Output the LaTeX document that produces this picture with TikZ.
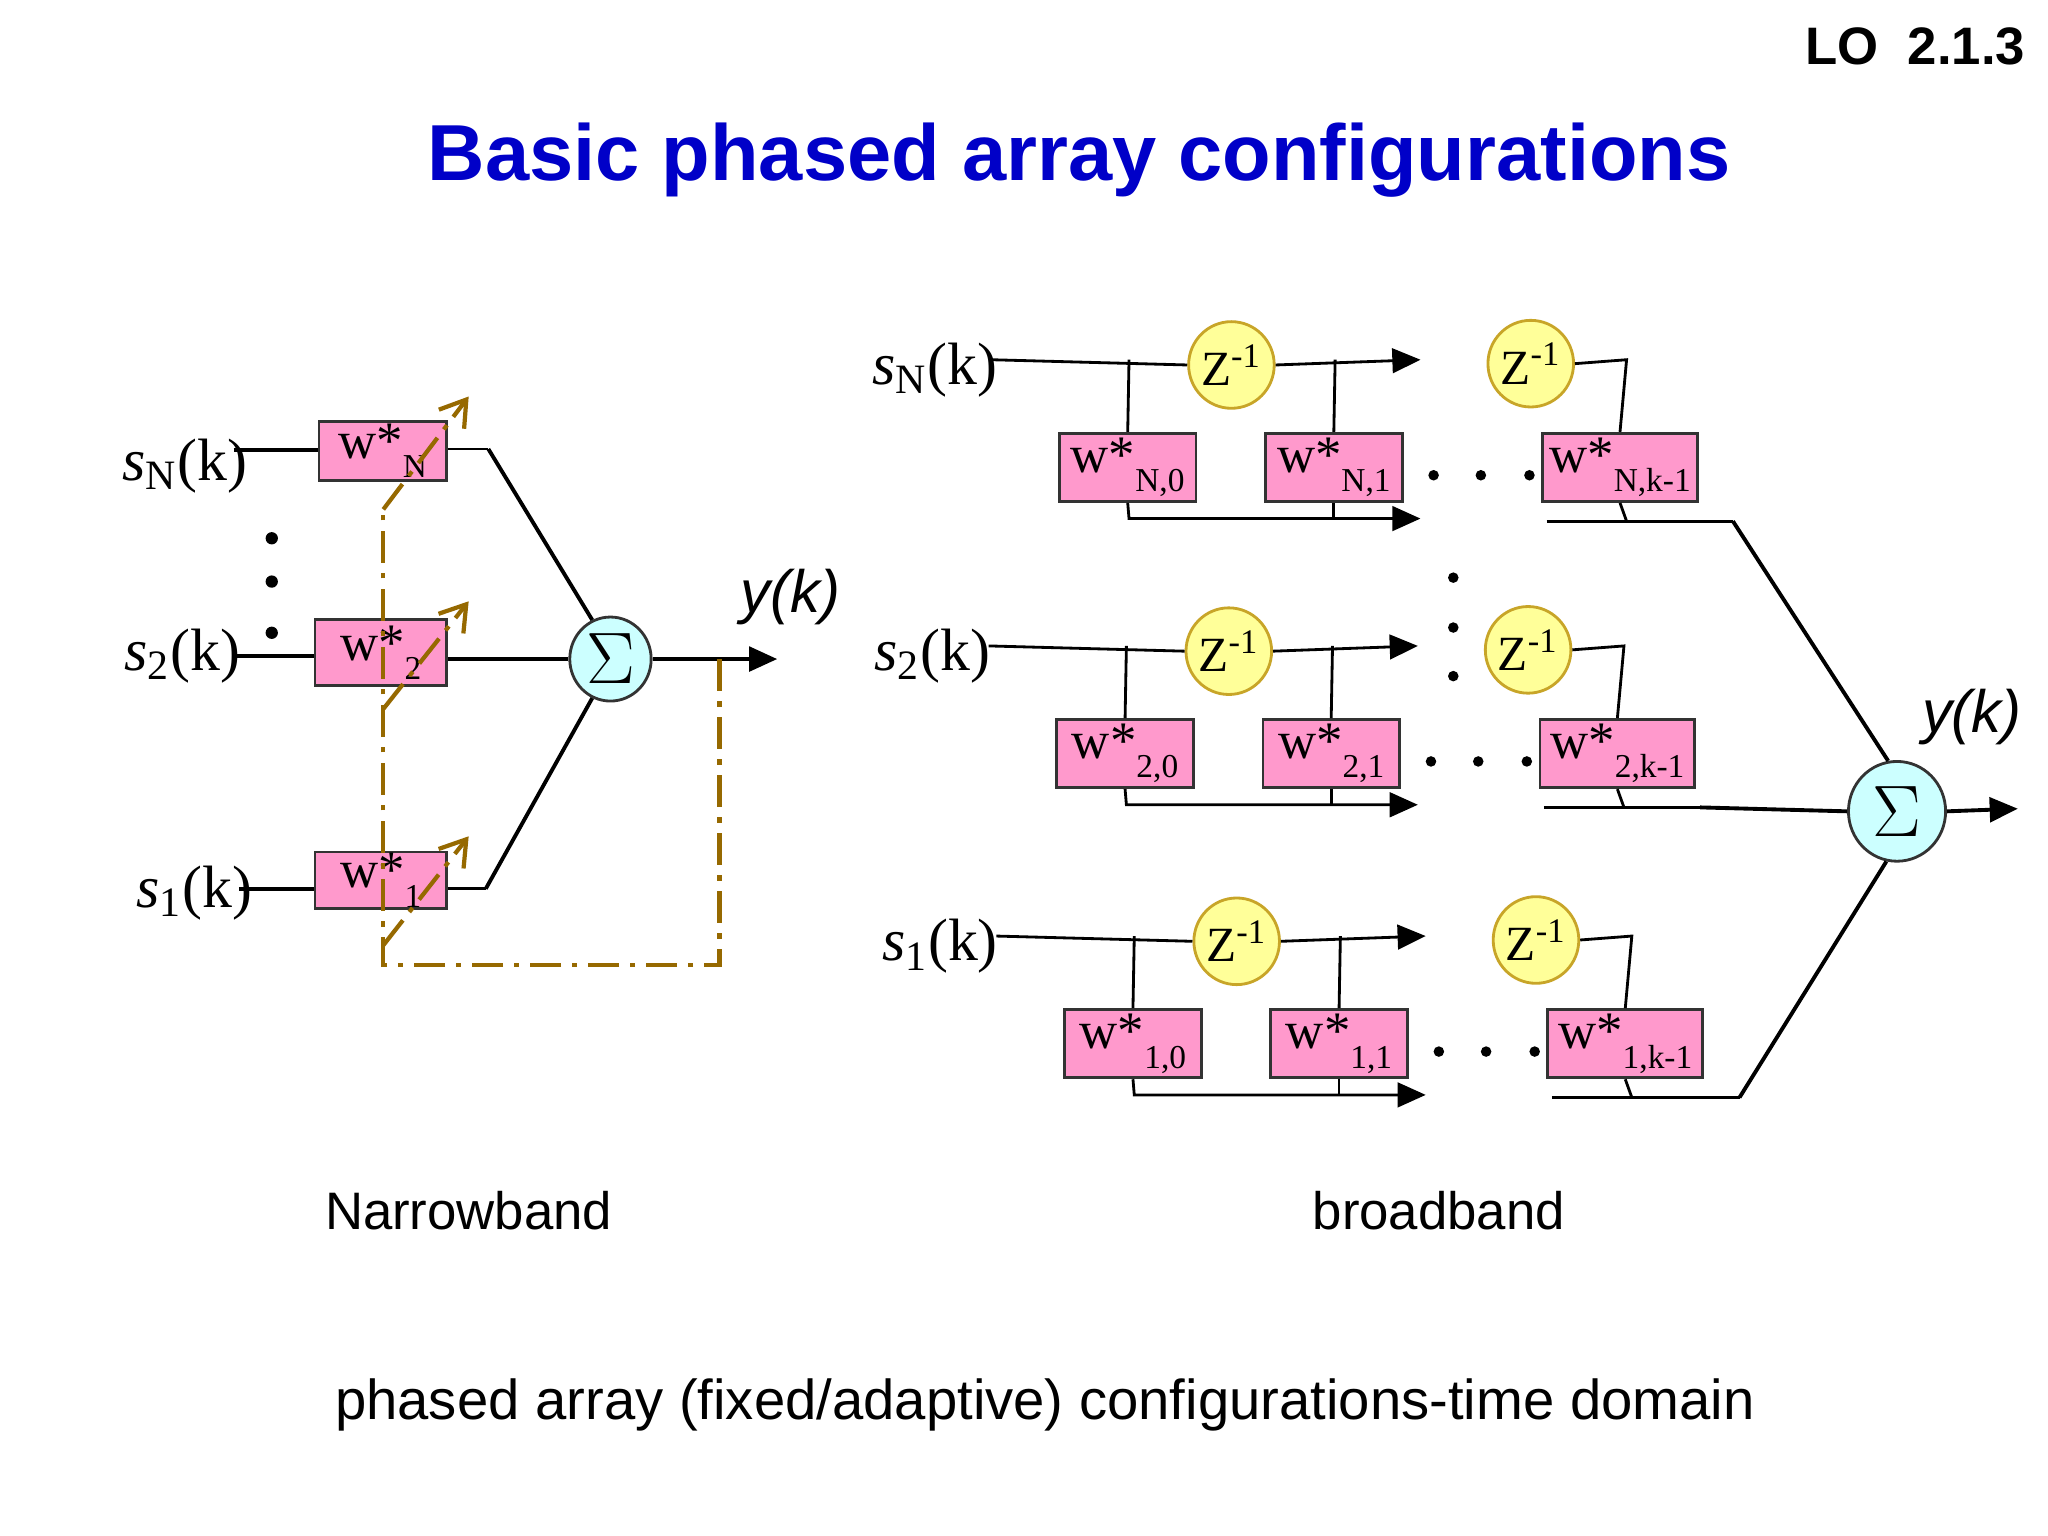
\documentclass[tikz,border=0pt]{standalone}
\usepackage{fontspec}
\setmainfont{Liberation Serif}
\newfontfamily\sans{Liberation Sans}
\usetikzlibrary{arrows.meta,shapes.geometric}
\definecolor{pinkw}{RGB}{255,153,204}
\definecolor{yelz}{RGB}{255,255,153}
\definecolor{yelb}{RGB}{200,165,40}
\definecolor{cyans}{RGB}{204,255,255}
\definecolor{brn}{RGB}{150,105,0}
\definecolor{ttl}{RGB}{0,0,200}
\newcommand{\wlab}[1]{w*\raisebox{-0.8ex}{\fontsize{9.5}{9.5}\selectfont #1}}
\tikzset{
  wbox/.style={draw=black!80,fill=pinkw,line width=0.8pt,minimum width=#1*0.013128cm,inner sep=0pt,font=\fontsize{15}{15}\selectfont},
  wbox/.default=104,
  zel/.style={ellipse,draw=yelb,fill=yelz,line width=0.8pt,minimum width=64*0.013128cm,minimum height=66*0.013128cm,inner sep=0pt,font=\fontsize{14}{14}\selectfont},
  sig/.style={ellipse,draw=black!80,fill=cyans,line width=0.8pt,inner sep=0pt,font=\fontsize{20}{20}\selectfont},
  ln/.style={line width=1.1pt},
  thn/.style={line width=0.8pt},
  arr/.style={-{Triangle[length=8pt,width=7pt]}},
  ctl/.style={brn,line width=1.2pt,dash pattern=on 9pt off 3pt on 1.5pt off 3pt},
  slab/.style={font=\fontsize{17}{17}\selectfont,inner sep=0pt},
  dot/.style={circle,fill=black,inner sep=0pt,minimum size=3.5pt},
}
\begin{document}
\begin{tikzpicture}[x=0.013128cm,y=-0.013128cm]
\useasboundingbox[fill=white] (0,0) rectangle (1560,1170);
% titles
\node[anchor=east,font=\sans\bfseries\fontsize{15}{15}\selectfont] (lo) at (1552,35) {LO\ \ 2.1.3};
\node[font=\sans\bfseries\fontsize{22.6}{22.6}\selectfont,text=ttl] (title) at (822,122) {Basic phased array configurations};
\node[font=\sans\fontsize{15}{15}\selectfont] (nb) at (357,922) {Narrowband};
\node[font=\sans\fontsize{15}{15}\selectfont] (bb) at (1096,922) {broadband};
\node[font=\sans\fontsize{16}{16}\selectfont] (cap) at (796,1070) {phased array (fixed/adaptive) configurations-time domain};

% ---------- Narrowband ----------
\node[wbox=97,minimum height=45*0.013128cm] (wN) at (291.5,343.5) {\wlab{N}};
\node[wbox=100,minimum height=50*0.013128cm] (w2) at (290,497) {\wlab{2}};
\node[wbox=100,minimum height=43*0.013128cm] (w1) at (290,670.5) {\wlab{1}};
\node[slab] (lsN) at (141,355) {\textit{s}\textsubscript{N}(k)};
\node[slab] (ls2) at (139,500) {\textit{s}\textsubscript{2}(k)};
\node[slab] (ls1) at (148,680) {\textit{s}\textsubscript{1}(k)};
\node[sig,minimum width=62*0.013128cm,minimum height=64*0.013128cm] (S1) at (465,502) {$\Sigma$};
\coordinate (iN) at (178,343); \coordinate (i2) at (178,500); \coordinate (i1) at (182,677);
\draw[ln] (iN) -- (wN.west|-iN);
\draw[ln] (i2) -- (w2.west|-i2);
\draw[ln] (i1) -- (w1.west|-i1);
\coordinate (oN) at (372,342); \coordinate (o1) at (370,677);
\draw[thn] (wN.east|-oN) -- (oN);
\draw[ln] (oN) -- (S1.115);
\draw[ln] (w2.east|-S1) -- (S1.west);
\draw[thn] (w1.east|-o1) -- (o1);
\draw[ln] (o1) -- (S1.245);
\coordinate (y1) at (592,502);
\draw[ln,arr] (S1.east) -- (y1);
\node[font=\sans\itshape\fontsize{17}{17}\selectfont] (yk1) at (602,455) {y(k)};
\foreach \yy/\n in {410/a,443/b,482/c} \node[dot] (nd\n) at (207,\yy) {};
% control loop
\coordinate (cA) at (548,502); \coordinate (cB) at (548,735); \coordinate (cC) at (292,735);
\coordinate (cD) at (292,388);
\draw[ctl] (cA) -- (cB) -- (cC) -- (cD);
\coordinate (dN) at (357,302); \coordinate (d2s) at (292,540); \coordinate (d2) at (357,458);
\coordinate (d1s) at (292,720); \coordinate (d1) at (357,637);
\draw[ctl,-{Straight Barb[length=7pt,width=9pt]}] (cD) -- (dN);
\draw[ctl,-{Straight Barb[length=7pt,width=9pt]}] (d2s) -- (d2);
\draw[ctl,-{Straight Barb[length=7pt,width=9pt]}] (d1s) -- (d1);

% ---------- Broadband ----------
\node[sig,minimum width=74*0.013128cm,minimum height=76*0.013128cm] (S2) at (1445,618) {$\Sigma$};
\draw[ln,arr] (S2.east) -- (1537,616) coordinate (y2);
\node[font=\sans\itshape\fontsize{17}{17}\selectfont] (yk2) at (1502,546) {y(k)};
\foreach \r/\s/\yy/\dx/\sub in {N/N/274/0/N, B/2/492/-2/2, A/1/713/4/1}{
  \begin{scope}[xshift={(755+\dx)*0.013128cm},yshift={-\yy*0.013128cm}]
    \node[slab] (in\r) at (-43,8) {\textit{s}\textsubscript{\s}(k)};
    \coordinate (st\r) at (0,0);
    \node[zel] (za\r) at (183,4) {Z\textsuperscript{-1}};
    \node[zel] (zb\r) at (411,3) {Z\textsuperscript{-1}};
    \node[wbox,minimum height=52*0.013128cm] (wa\r) at (104,82) {\wlab{\sub,0}};
    \node[wbox,minimum height=52*0.013128cm] (wb\r) at (261,82) {\wlab{\sub,1}};
    \node[wbox=118,minimum height=52*0.013128cm] (wc\r) at (479,82) {\wlab{\sub,k-1}};
    \coordinate (ta\r) at (105,0); \coordinate (tb\r) at (262,0);
    \coordinate (e\r) at (327,0); \coordinate (f\r) at (484,0);
    \coordinate (ba\r) at (105,121); \coordinate (be\r) at (327,121);
    \coordinate (bc\r) at (423,123); \coordinate (bk\r) at (484,123);
    \node[dot,minimum size=3pt] (pa\r) at (337,88) {};
    \node[dot,minimum size=3pt] (pb\r) at (373,88) {};
    \node[dot,minimum size=3pt] (pc\r) at (410,88) {};
  \end{scope}
  \draw[thn] (st\r) -- (za\r.west);
  \draw[thn,arr] (za\r.east) -- (e\r);
  \draw[thn] (zb\r.east) -- (f\r) -- (wc\r.north);
  \draw[thn] (ta\r) -- (wa\r.north);
  \draw[thn] (tb\r) -- (wb\r.north);
  \draw[thn,arr] (wa\r.south) -- (ba\r) -- (be\r);
  \draw[thn] (wb\r.south) -- (wb\r.south|-ba\r);
  \draw[thn] (wc\r.south) -- (bk\r);
}
\coordinate (kN) at (1320,397); \coordinate (kA) at (1325,836); \coordinate (kB) at (1295,615);
\draw[thn] (bcN) -- (kN); \draw[ln] (kN) -- (S2.100);
\draw[thn] (bcB) -- (kB); \draw[ln] (kB) -- (S2.west);
\draw[thn] (bcA) -- (kA); \draw[ln] (kA) -- (S2.258);
\foreach \yy/\n in {440/a,478/b,515/c} \node[dot,minimum size=3pt] (vd\n) at (1107,\yy) {};
\end{tikzpicture}
\end{document}
